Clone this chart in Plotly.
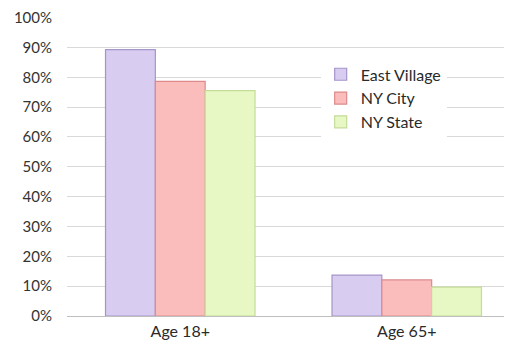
import plotly.graph_objects as go

categories = ["Age 18+", "Age 65+"]
east_village = [0.893, 0.137]
ny_city = [0.786, 0.121]
ny_state = [0.755, 0.097]
tick_vals = [i / 10 for i in range(11)]
tick_text = [f"{i * 10}%" for i in range(11)]

series = [
    ("East Village", east_village, "#d8ccf0", "#a595c9"),
    ("NY City", ny_city, "#fbbcbc", "#dc8a8a"),
    ("NY State", ny_state, "#e8f8c4", "#c3dc98"),
]

fig = go.Figure()
for name, vals, fill, edge in series:
    fig.add_trace(go.Bar(
        x=categories, y=vals, name=name,
        marker=dict(color=fill, line=dict(color=edge, width=1.2)),
    ))

# page body has an 8px margin, so margins are shifted to compensate
fig.update_layout(
    width=512, height=351,
    margin=dict(l=59, r=0, t=9, b=43),
    paper_bgcolor="white", plot_bgcolor="white",
    barmode="group", bargap=0.34, bargroupgap=0,
    font=dict(family="Lato, Open Sans, sans-serif", size=15, color="#333333"),
    showlegend=True,
    legend=dict(x=0.56, y=0.865, xanchor="left", yanchor="top",
                bgcolor="white", font=dict(size=16, color="#2a2a2a"),
                itemwidth=30, tracegroupgap=2),
    xaxis=dict(showgrid=False, showline=False, ticks="", ticklabelstandoff=4,
               tickfont=dict(size=16, color="#2a2a2a")),
    yaxis=dict(range=[0, 1.002], tickvals=tick_vals, ticktext=tick_text,
               showgrid=True, gridcolor="#d9d9d9", gridwidth=1,
               zeroline=True, zerolinecolor="#bfbfbf", zerolinewidth=1,
               ticks="", ticklabelstandoff=14, ticklabeloverflow="allow",
               tickfont=dict(size=15, color="#333333")),
)

fig.write_html("out.html")
